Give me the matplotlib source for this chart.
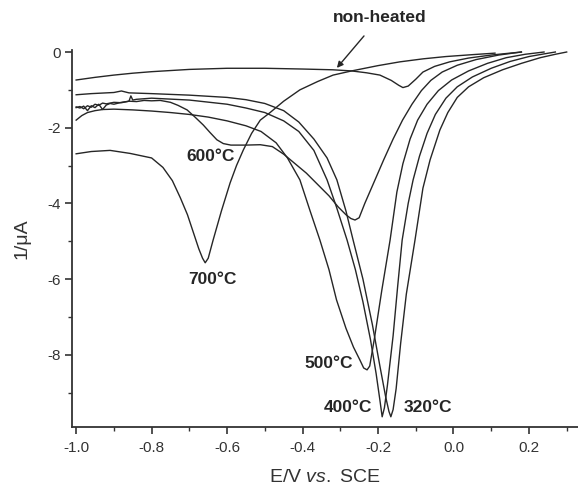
import matplotlib.pyplot as plt
from matplotlib.ticker import MultipleLocator

# =========================================================
# DATA
# =========================================================

nh_x = [-1.0, -0.95, -0.9, -0.85, -0.8, -0.7, -0.6, -0.5, -0.4, -0.32, -0.27, -0.23,
        -0.195, -0.165, -0.145, -0.134, -0.12, -0.10, -0.081, -0.05, -0.01, 0.04, 0.1, 0.14, 0.18]
nh_y = [-0.74, -0.67, -0.61, -0.56, -0.52, -0.46, -0.43, -0.43, -0.45, -0.47, -0.5, -0.55,
        -0.61, -0.75, -0.88, -0.94, -0.9, -0.72, -0.53, -0.38, -0.26, -0.16, -0.08, -0.04, 0.0]

c700_x = [-1.0, -0.96, -0.91, -0.857, -0.8, -0.77, -0.745, -0.724, -0.705, -0.69, -0.675,
          -0.665, -0.658, -0.65, -0.637, -0.615, -0.592, -0.575, -0.557, -0.535, -0.512,
          -0.486, -0.45, -0.407, -0.36, -0.319, -0.27, -0.2, -0.142, -0.08, -0.02, 0.05, 0.11]
c700_y = [-2.69, -2.63, -2.6, -2.68, -2.8, -3.05, -3.4, -3.85, -4.3, -4.75, -5.2,
          -5.45, -5.57, -5.45, -4.97, -4.2, -3.46, -3.0, -2.59, -2.15, -1.8,
          -1.6, -1.3, -1.0, -0.78, -0.61, -0.5, -0.36, -0.26, -0.18, -0.12, -0.07, -0.03]

c600_x = [-1.0, -0.99, -0.98, -0.97, -0.96, -0.95, -0.94, -0.93, -0.92, -0.9, -0.88, -0.86,
          -0.84, -0.82, -0.8, -0.777, -0.75, -0.73, -0.706, -0.685, -0.663, -0.645, -0.627,
          -0.61, -0.59, -0.55, -0.512, -0.48, -0.45, -0.42, -0.39, -0.36, -0.33, -0.305,
          -0.285, -0.272, -0.261, -0.25, -0.235, -0.208, -0.185, -0.16, -0.135, -0.11,
          -0.085, -0.06, -0.03, 0.01, 0.06, 0.12, 0.18]
c600_y = [-1.47, -1.44, -1.5, -1.42, -1.46, -1.38, -1.41, -1.35, -1.37, -1.33, -1.34, -1.3,
          -1.31, -1.28, -1.29, -1.28, -1.33, -1.41, -1.53, -1.72, -1.93, -2.13, -2.32,
          -2.42, -2.46, -2.46, -2.45, -2.5, -2.7, -2.95, -3.2, -3.5, -3.8, -4.1,
          -4.3, -4.4, -4.44, -4.38, -4.0, -3.38, -2.85, -2.3, -1.8, -1.38,
          -1.02, -0.75, -0.53, -0.35, -0.2, -0.08, 0.0]

c500_x = [-1.0, -0.985, -0.97, -0.95, -0.93, -0.9, -0.85, -0.8, -0.75, -0.7, -0.65, -0.6,
          -0.55, -0.51, -0.47, -0.44, -0.407, -0.38, -0.354, -0.33, -0.31, -0.285, -0.265,
          -0.248, -0.238, -0.229, -0.222, -0.21, -0.19, -0.168, -0.15, -0.134, -0.115,
          -0.095, -0.07, -0.04, -0.005, 0.04, 0.09, 0.14, 0.19, 0.24]
c500_y = [-1.8, -1.68, -1.6, -1.55, -1.52, -1.51, -1.53, -1.56, -1.6, -1.65, -1.72, -1.82,
          -1.95, -2.1, -2.4, -2.8, -3.38, -4.2, -4.97, -5.75, -6.55, -7.3, -7.8,
          -8.14, -8.35, -8.4, -8.3, -7.6, -6.3, -4.97, -3.7, -2.95, -2.3,
          -1.8, -1.38, -1.02, -0.74, -0.5, -0.3, -0.15, -0.06, 0.0]

c400_x = [-1.0, -0.99, -0.98, -0.97, -0.96, -0.95, -0.94, -0.93, -0.92, -0.91, -0.9, -0.88,
          -0.86, -0.855, -0.85, -0.84, -0.8, -0.7, -0.6, -0.55, -0.5, -0.45, -0.41, -0.37,
          -0.335, -0.31, -0.282, -0.26, -0.24, -0.22, -0.205, -0.195, -0.189, -0.183,
          -0.175, -0.16, -0.148, -0.136, -0.12, -0.107, -0.09, -0.07, -0.048, -0.02,
          0.01, 0.05, 0.1, 0.15, 0.2, 0.24, 0.27]
c400_y = [-1.45, -1.48, -1.43, -1.55, -1.42, -1.47, -1.38, -1.52, -1.4, -1.36, -1.38, -1.33,
          -1.3, -1.16, -1.27, -1.25, -1.22, -1.27, -1.38, -1.48, -1.6, -1.82, -2.1, -2.6,
          -3.38, -4.1, -4.97, -5.75, -6.6, -7.6, -8.5, -9.2, -9.64, -9.4,
          -8.8, -7.5, -6.2, -4.97, -4.0, -3.38, -2.75, -2.15, -1.65, -1.22,
          -0.92, -0.66, -0.43, -0.25, -0.12, -0.05, 0.0]

c320_x = [-1.0, -0.96, -0.92, -0.9, -0.88, -0.86, -0.8, -0.7, -0.6, -0.55, -0.5, -0.45,
          -0.41, -0.37, -0.335, -0.309, -0.285, -0.266, -0.24, -0.215, -0.195, -0.18,
          -0.171, -0.166, -0.16, -0.152, -0.14, -0.125, -0.102, -0.081, -0.062, -0.036,
          -0.015, 0.01, 0.04, 0.08, 0.13, 0.18, 0.23, 0.27, 0.30]
c320_y = [-1.13, -1.1, -1.08, -1.07, -1.03, -1.08, -1.1, -1.14, -1.2, -1.26, -1.36, -1.55,
          -1.85, -2.3, -2.8, -3.38, -4.2, -4.97, -6.0, -7.2, -8.3, -9.1,
          -9.5, -9.64, -9.45, -8.9, -7.7, -6.4, -4.97, -3.6, -2.85, -2.06,
          -1.6, -1.2, -0.92, -0.68, -0.47, -0.3, -0.15, -0.06, 0.0]

curves = [
    (nh_x, nh_y),
    (c700_x, c700_y),
    (c600_x, c600_y),
    (c500_x, c500_y),
    (c400_x, c400_y),
    (c320_x, c320_y),
]

labels = ["600°C", "700°C", "500°C", "400°C", "320°C"]
label_x = [-0.645, -0.64, -0.33, -0.279, -0.068]
label_y = [-2.77, -6.0, -8.22, -9.4, -9.4]

# =========================================================
# FIGURE
# =========================================================

plt.rcParams["font.family"] = ["Liberation Sans", "DejaVu Sans"]
plt.rcParams["axes.unicode_minus"] = False
plt.rcParams["mathtext.fontset"] = "custom"
plt.rcParams["mathtext.rm"] = "Liberation Sans"
plt.rcParams["mathtext.it"] = "Liberation Sans:italic"

fig = plt.figure(figsize=(5.78, 4.87), dpi=100)
ax = fig.add_axes([72 / 578, 60 / 487, 506 / 578, 377 / 487])

for x, y in curves:
    ax.plot(x, y, color="#262626", lw=1.0)

for text, tx, ty in zip(labels, label_x, label_y):
    ax.text(tx, ty, text, fontsize=12.5, fontweight="bold", color="#262626",
            ha="center", va="center")

ax.annotate("non-heated", xy=(-0.309, -0.42), xytext=(-0.195, 0.92),
            fontsize=12.5, fontweight="bold", color="#262626",
            ha="center", va="center", annotation_clip=False,
            arrowprops=dict(arrowstyle="-|>", color="#262626", lw=1.0,
                            shrinkA=8, shrinkB=0, mutation_scale=9))

ax.set_xlim(-1.011, 0.33)
ax.set_ylim(-9.91, 0.053)

ax.xaxis.set_minor_locator(MultipleLocator(0.1))
ax.yaxis.set_minor_locator(MultipleLocator(1))
ax.set_xticks([-1.0, -0.8, -0.6, -0.4, -0.2, 0.0, 0.2])
ax.set_xticklabels(["-1.0", "-0.8", "-0.6", "-0.4", "-0.2", "0.0", "0.2"])
ax.set_yticks([0, -2, -4, -6, -8])
ax.set_yticklabels(["0", "-2", "-4", "-6", "-8"])

ax.tick_params(which="major", direction="out", length=5, width=1.2,
               labelsize=11, colors="#333333", pad=5)
ax.tick_params(axis="y", which="major", pad=3)
ax.tick_params(which="minor", direction="out", length=3, width=1.0, colors="#333333")

for side in ["top", "right"]:
    ax.spines[side].set_visible(False)
for side in ["left", "bottom"]:
    ax.spines[side].set_linewidth(1.3)
    ax.spines[side].set_color("#333333")

ax.set_xlabel("E/V $\\mathit{vs.}$ SCE", fontsize=14, color="#333333", labelpad=10)
ax.set_ylabel("1/μA", fontsize=14, color="#333333", labelpad=12)

plt.savefig("out.png", dpi=100)
